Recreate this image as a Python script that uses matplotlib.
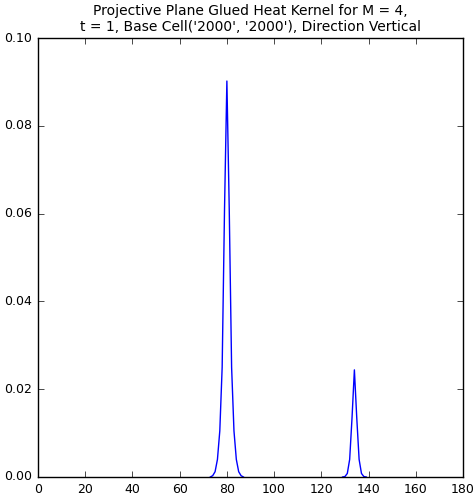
import matplotlib
matplotlib.use("Agg")
import matplotlib.pyplot as plt
import numpy as np

plt.style.use('classic')
plt.rcParams['font.family'] = ['DejaVu Sans']

# kernel values around the two peaks (zero everywhere else on 0..180)
peak1_x = [73, 74, 75, 76, 77, 78, 79, 80, 81, 82, 83, 84, 85, 86, 87]
peak1_y = [0.0, 0.0003, 0.0012, 0.004, 0.0105, 0.025, 0.061, 0.0902, 0.061, 0.025, 0.0105, 0.004, 0.0012, 0.0003, 0.0]
peak2_x = [129, 130, 131, 132, 133, 134, 135, 136, 137, 138, 139]
peak2_y = [0.0, 0.0001, 0.0008, 0.004, 0.0135, 0.0244, 0.0135, 0.004, 0.0008, 0.0001, 0.0]

fig = plt.figure(figsize=(4.76, 4.95), dpi=100, facecolor='white')
ax = fig.add_axes([0.0798, 0.0364, 0.8929, 0.8868])
ax.plot(peak1_x, peak1_y, color='b', linewidth=1.0, zorder=1)
ax.plot(peak2_x, peak2_y, color='b', linewidth=1.0, zorder=1)
for sp in ax.spines.values():
    sp.set_zorder(3)
ax.set_xlim(0, 180)
ax.set_ylim(0, 0.10)
ax.set_xticks(np.arange(0, 181, 20))
ax.set_yticks([0.0, 0.02, 0.04, 0.06, 0.08, 0.10])
ax.set_yticklabels(['0.00', '0.02', '0.04', '0.06', '0.08', '0.10'])
ax.tick_params(labelsize=9)
ax.set_title("Projective Plane Glued Heat Kernel for M = 4,\nt = 1, Base Cell('2000', '2000'), Direction Vertical",
             fontsize=10)

fig.savefig('out.png', dpi=100, facecolor='white')
